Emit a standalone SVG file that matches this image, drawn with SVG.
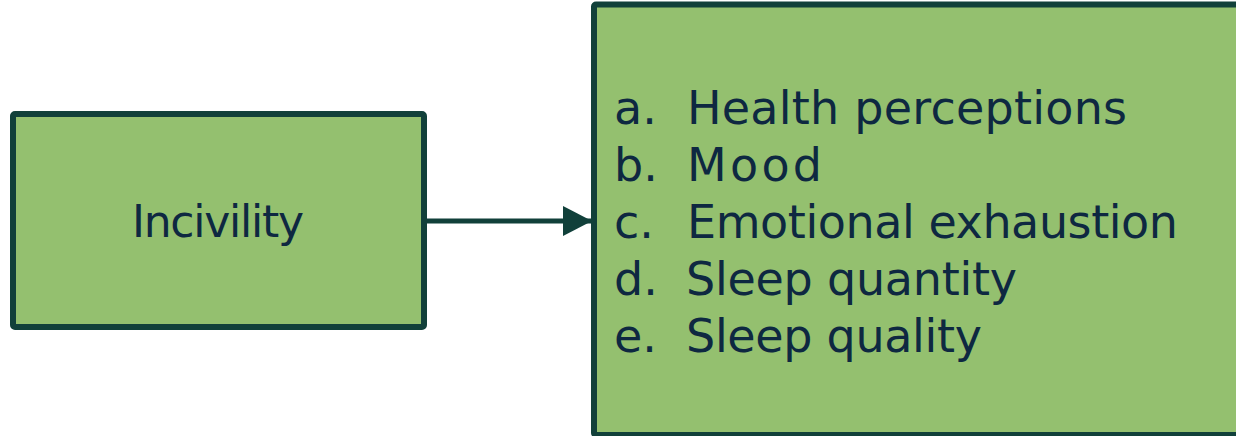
<svg xmlns="http://www.w3.org/2000/svg" width="1236" height="436" viewBox="0 0 1236 436">
  <style>
    .box { fill: #94c06f; stroke: #11403a; stroke-width: 6; stroke-linejoin: round; }
    .label { font-family: "DejaVu Sans", "Liberation Sans", sans-serif; fill: #0e2841; }
    .conn { stroke: #11403a; stroke-width: 5; fill: none; }
  </style>
  <defs>
    <marker id="arrow" markerUnits="userSpaceOnUse" markerWidth="30" markerHeight="30" refX="29" refY="15" orient="auto">
      <path d="M0,0 L29,15 L0,30 Z" fill="#11403a"/>
    </marker>
  </defs>

  <g id="node-incivility">
    <rect class="box" x="13" y="114" width="411" height="213" rx="2"/>
    <text class="label" x="132" y="237" font-size="44" textLength="172">Incivility</text>
  </g>

  <g id="node-outcomes">
    <rect class="box" x="594" y="4.5" width="700" height="430.5" rx="2"/>
    <g class="label" font-size="46">
      <text x="614" y="124">a.</text>
      <text x="687" y="124" textLength="440">Health perceptions</text>
      <text x="614" y="181">b.</text>
      <text x="687" y="181" textLength="135">Mood</text>
      <text x="614" y="238">c.</text>
      <text x="687" y="238" textLength="491">Emotional exhaustion</text>
      <text x="614" y="295">d.</text>
      <text x="686" y="295" textLength="331">Sleep quantity</text>
      <text x="614" y="352">e.</text>
      <text x="686" y="352" textLength="296">Sleep quality</text>
    </g>
  </g>

  <g id="connectors">
    <line class="conn" x1="427" y1="221" x2="592" y2="221" marker-end="url(#arrow)"/>
  </g>
</svg>
